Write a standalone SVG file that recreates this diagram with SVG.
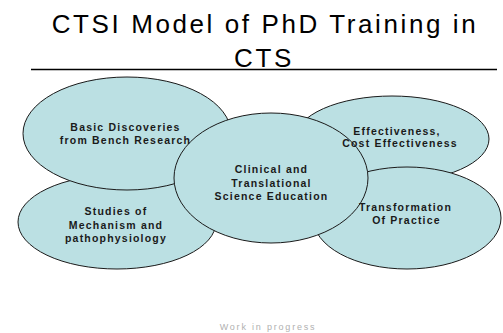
<svg xmlns="http://www.w3.org/2000/svg" width="503" height="333" viewBox="0 0 503 333">
<style>
.bg{fill:#ffffff}
.oval{fill:#bbe0e3;stroke:#1a1a1a;stroke-width:1}
.lbl{font-family:"Liberation Sans",Arial,sans-serif;font-weight:bold;font-size:10.5px;letter-spacing:1.2px;fill:#1a1a1a;text-anchor:middle}
.title{font-family:"Liberation Sans",Arial,sans-serif;font-size:26px;letter-spacing:2.6px;fill:#000;text-anchor:middle}
.foot{font-family:"Liberation Sans",Arial,sans-serif;font-size:9px;letter-spacing:1.8px;fill:#b0b0b0;text-anchor:middle}
</style>
<rect class="bg" x="0" y="0" width="503" height="333"/>
<g id="title">
<text class="title" x="265" y="33">CTSI Model of PhD Training in</text>
<text class="title" x="264" y="67">CTS</text>
<line x1="31" y1="69.5" x2="497" y2="69.5" stroke="#000" stroke-width="1.5"/>
</g>
<g id="connectors"></g>
<g id="node-studies"><ellipse class="oval" cx="117" cy="222" rx="99" ry="47"/></g>
<g id="node-basic"><ellipse class="oval" cx="127" cy="133.5" rx="104" ry="56.5"/></g>
<g id="node-effectiveness"><ellipse class="oval" cx="392" cy="139" rx="97" ry="43"/></g>
<g id="node-transformation"><ellipse class="oval" cx="407" cy="218" rx="94" ry="51"/></g>
<g id="node-clinical"><ellipse class="oval" cx="271" cy="178" rx="97" ry="65"/></g>
<g id="labels">
<text class="lbl" x="125.5" y="130.5">Basic Discoveries</text>
<text class="lbl" x="125.5" y="144.3">from Bench Research</text>
<text class="lbl" x="116" y="215">Studies of</text>
<text class="lbl" x="116" y="228.5">Mechanism and</text>
<text class="lbl" x="116" y="242">pathophysiology</text>
<text class="lbl" x="271.5" y="173.3">Clinical and</text>
<text class="lbl" x="271.5" y="186.7">Translational</text>
<text class="lbl" x="271.5" y="200">Science Education</text>
<text class="lbl" x="397" y="135">Effectiveness,</text>
<text class="lbl" x="400" y="147.3">Cost Effectiveness</text>
<text class="lbl" x="405.5" y="210.7">Transformation</text>
<text class="lbl" x="406.5" y="224.3">Of Practice</text>
</g>
<g id="footer">
<text class="foot" x="268" y="329.5">Work in progress</text>
</g>
</svg>
